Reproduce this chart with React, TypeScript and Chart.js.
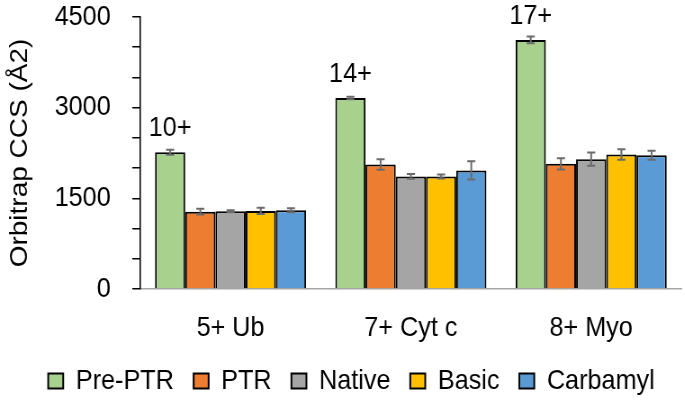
import React, { useEffect, useRef } from 'react';
import { Chart, registerables } from 'chart.js';

Chart.register(...registerables);

// ---- data ----
const categories = ['5+ Ub', '7+ Cyt c', '8+ Myo'];
const seriesNames = ['Pre-PTR', 'PTR', 'Native', 'Basic', 'Carbamyl'];
const prePTR = [2263, 3160, 4121];
const ptr = [1280, 2060, 2071];
const native = [1286, 1863, 2148];
const basic = [1291, 1863, 2225];
const carbamyl = [1302, 1962, 2214];
const prePTRErr = [41, 20, 55];
const ptrErr = [49, 88, 93];
const nativeErr = [15, 41, 110];
const basicErr = [52, 33, 85];
const carbamylErr = [33, 151, 74];
const chargeLabels = ['10+', '14+', '17+'];
const yMin = 0;
const yMax = 4500;
const yMinorStep = 500;
const yLabelStep = 1500;
const yTitle = 'Orbitrap CCS (Å2)';

const seriesValues = [prePTR, ptr, native, basic, carbamyl];
const seriesErrors = [prePTRErr, ptrErr, nativeErr, basicErr, carbamylErr];
const seriesColors = ['#A9D18E', '#ED7D31', '#A5A5A5', '#FFC000', '#5B9BD5'];

const SX = 0.9; // horizontal squeeze of the original picture
const W = 685 / SX;
const H = 402;
const FONT = 'Liberation Sans, Arial, sans-serif';

const errorBarPlugin = {
  id: 'errorBars',
  afterDatasetsDraw(chart: any) {
    const ctx = chart.ctx;
    const yScale = chart.scales.y;
    ctx.save();
    ctx.strokeStyle = '#6B6B6B';
    ctx.lineWidth = 2;
    chart.data.datasets.forEach((ds: any, i: number) => {
      const meta = chart.getDatasetMeta(i);
      const errs = seriesErrors[i];
      meta.data.forEach((bar: any, j: number) => {
        const v = ds.data[j];
        const e = errs[j];
        const yT = yScale.getPixelForValue(v + e);
        const yB = yScale.getPixelForValue(v - e);
        const x = bar.x;
        const cap = 4.5;
        ctx.beginPath();
        ctx.moveTo(x, yT);
        ctx.lineTo(x, yB);
        ctx.moveTo(x - cap, yT);
        ctx.lineTo(x + cap, yT);
        ctx.moveTo(x - cap, yB);
        ctx.lineTo(x + cap, yB);
        ctx.stroke();
      });
    });
    ctx.restore();
  },
};

const chargeLabelPlugin = {
  id: 'chargeLabels',
  afterDatasetsDraw(chart: any) {
    const ctx = chart.ctx;
    const meta = chart.getDatasetMeta(0);
    ctx.save();
    ctx.fillStyle = '#000';
    ctx.font = `28px ${FONT}`;
    ctx.textAlign = 'center';
    ctx.textBaseline = 'alphabetic';
    meta.data.forEach((bar: any, j: number) => {
      ctx.fillText(chargeLabels[j], bar.x, bar.y - 16);
    });
    ctx.restore();
  },
};

// nudge the legend row a little to the right, as in the original figure
const legendShiftPlugin = {
  id: 'legendShift',
  afterLayout(chart: any) {
    const lg = chart.legend;
    if (lg) {
      lg.left += 12;
      lg.right += 12;
    }
  },
};

export default function App() {
  const ref = useRef<HTMLCanvasElement | null>(null);

  useEffect(() => {
    if (!ref.current) return;
    const chart = new Chart(ref.current, {
      type: 'bar',
      data: {
        labels: categories,
        datasets: seriesNames.map((name, i) => ({
          label: name,
          data: seriesValues[i],
          backgroundColor: seriesColors[i],
          borderColor: '#000000',
          borderWidth: 2,
          categoryPercentage: 0.838,
          barPercentage: 1.0,
        })),
      },
      options: {
        responsive: false,
        animation: false,
        devicePixelRatio: 1,
        layout: { padding: { left: 0, right: 4, top: 17, bottom: -3 } },
        plugins: {
          legend: {
            position: 'bottom',
            labels: {
              boxWidth: 15 / SX,
              boxHeight: 15,
              padding: 22,
              color: '#000',
              font: { family: FONT, size: 28 },
            },
          },
          tooltip: { enabled: false },
        },
        scales: {
          x: {
            grid: { display: false, drawTicks: false },
            border: { display: true, color: '#A6A6A6', width: 1.5 },
            ticks: {
              color: '#000',
              padding: 22,
              font: { family: FONT, size: 28 },
              maxRotation: 0,
            },
            afterFit(scale: any) {
              scale.height = 56;
            },
          },
          y: {
            min: yMin,
            max: yMax,
            grid: {
              display: true,
              drawOnChartArea: false,
              drawTicks: true,
              tickLength: 9,
              color: '#000',
              lineWidth: 1.5,
            },
            border: { display: true, color: '#000', width: 1.5 },
            ticks: {
              stepSize: yMinorStep,
              autoSkip: false,
              color: '#000',
              padding: 24,
              font: { family: FONT, size: 28 },
              callback: (v: any) => (Number(v) % yLabelStep === 0 ? String(v) : ''),
            },
            title: {
              display: true,
              text: yTitle,
              color: '#000',
              font: { family: FONT, size: 28 },
              padding: { top: 5, bottom: 0 },
            },
            afterFit(scale: any) {
              scale.width = 156;
              scale.paddingTop = 0;
              scale.paddingBottom = 0;
            },
          },
        },
      },
      plugins: [errorBarPlugin, chargeLabelPlugin, legendShiftPlugin],
    });
    return () => chart.destroy();
  }, []);

  return (
    <div
      style={{
        position: 'fixed',
        left: 0,
        top: 0,
        width: 685,
        height: H,
        overflow: 'hidden',
        background: '#fff',
      }}
    >
      <div
        style={{
          width: W,
          height: H,
          transform: `scaleX(${SX})`,
          transformOrigin: '0 0',
        }}
      >
        <canvas ref={ref} width={Math.round(W)} height={H} style={{ display: 'block' }} />
      </div>
    </div>
  );
}
